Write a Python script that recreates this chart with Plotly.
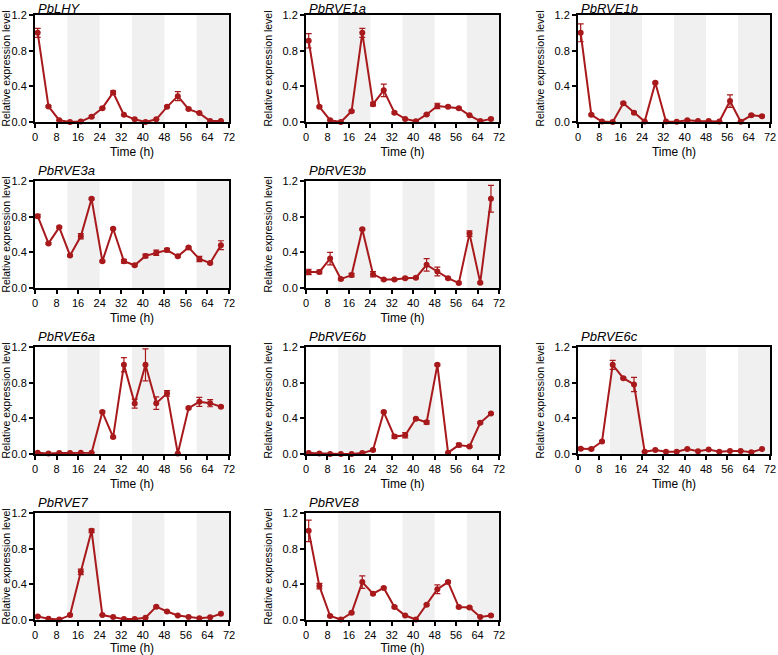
import plotly.graph_objects as go

# Zeitpunkte (h)
time_h = [1, 5, 9, 13, 17, 21, 25, 29, 33, 37, 41, 45, 49, 53, 57, 61, 65, 69]
x_ticks = [0, 8, 16, 24, 32, 40, 48, 56, 64, 72]
y_ticks = [0.0, 0.4, 0.8, 1.2]
dark_periods = [(12, 24), (36, 48), (60, 72)]

genes = ["PbLHY", "PbRVE1a", "PbRVE1b", "PbRVE3a", "PbRVE3b",
         "PbRVE6a", "PbRVE6b", "PbRVE6c", "PbRVE7", "PbRVE8"]

lhy = [1.0, 0.175, 0.02, 0.0, 0.005, 0.06, 0.155, 0.33, 0.08, 0.03, 0.0, 0.03, 0.17, 0.29, 0.145, 0.10, 0.01, 0.01]
lhy_err = [0.05, 0.01, 0, 0, 0, 0.01, 0.01, 0.02, 0, 0, 0, 0, 0.01, 0.05, 0.01, 0, 0, 0]
rve1a = [0.91, 0.17, 0.02, 0.0, 0.12, 1.0, 0.2, 0.355, 0.105, 0.035, 0.008, 0.085, 0.18, 0.17, 0.155, 0.075, 0.01, 0.035]
rve1a_err = [0.08, 0.01, 0, 0, 0.01, 0.05, 0.02, 0.07, 0.01, 0, 0, 0.01, 0.03, 0.01, 0.01, 0, 0, 0.01]
rve1b = [1.0, 0.08, 0.005, 0.0, 0.21, 0.105, 0.005, 0.44, 0.005, 0.003, 0.02, 0.012, 0.01, 0.005, 0.235, 0.003, 0.075, 0.065]
rve1b_err = [0.1, 0.01, 0, 0, 0.01, 0.01, 0, 0.01, 0, 0, 0, 0, 0, 0, 0.07, 0, 0.01, 0.01]
rve3a = [0.805, 0.5, 0.68, 0.365, 0.58, 1.0, 0.3, 0.665, 0.3, 0.255, 0.36, 0.395, 0.425, 0.355, 0.455, 0.325, 0.28, 0.48]
rve3a_err = [0.02, 0.01, 0.01, 0.01, 0.03, 0.01, 0.01, 0.01, 0.02, 0.01, 0.02, 0.03, 0.02, 0.01, 0.01, 0.03, 0.01, 0.05]
rve3b = [0.18, 0.18, 0.33, 0.1, 0.145, 0.66, 0.155, 0.095, 0.095, 0.11, 0.115, 0.26, 0.185, 0.11, 0.055, 0.61, 0.06, 1.0]
rve3b_err = [0.03, 0.02, 0.07, 0.01, 0.02, 0.01, 0.03, 0.01, 0.01, 0.01, 0.01, 0.07, 0.05, 0.01, 0.01, 0.03, 0.01, 0.15]
rve6a = [0.015, 0.005, 0.01, 0.01, 0.015, 0.015, 0.47, 0.19, 1.0, 0.565, 1.0, 0.57, 0.68, 0.005, 0.515, 0.585, 0.57, 0.53]
rve6a_err = [0, 0, 0, 0, 0, 0, 0.01, 0.01, 0.08, 0.05, 0.18, 0.07, 0.03, 0, 0.01, 0.05, 0.04, 0.01]
rve6b = [0.01, 0.005, 0.0, 0.0, 0.0, 0.01, 0.045, 0.47, 0.195, 0.21, 0.395, 0.355, 1.0, 0.015, 0.1, 0.085, 0.35, 0.455]
rve6b_err = [0, 0, 0, 0, 0, 0, 0.01, 0.01, 0.02, 0.03, 0.01, 0.02, 0.01, 0, 0.02, 0.01, 0.01, 0.01]
rve6c = [0.06, 0.055, 0.14, 1.0, 0.85, 0.78, 0.025, 0.045, 0.025, 0.025, 0.055, 0.03, 0.05, 0.025, 0.035, 0.035, 0.02, 0.055]
rve6c_err = [0.01, 0.01, 0.01, 0.05, 0.01, 0.08, 0, 0, 0, 0, 0, 0, 0, 0, 0, 0, 0, 0]
rve7 = [0.04, 0.015, 0.005, 0.055, 0.54, 1.0, 0.055, 0.035, 0.01, 0.01, 0.025, 0.15, 0.095, 0.05, 0.035, 0.02, 0.03, 0.07]
rve7_err = [0.01, 0, 0, 0.01, 0.03, 0.02, 0, 0, 0, 0, 0, 0.01, 0.01, 0, 0, 0, 0, 0]
rve8 = [1.0, 0.38, 0.045, 0.005, 0.08, 0.425, 0.295, 0.36, 0.145, 0.05, 0.005, 0.17, 0.345, 0.425, 0.145, 0.14, 0.035, 0.05]
rve8_err = [0.12, 0.03, 0.01, 0, 0.01, 0.07, 0.01, 0.01, 0.01, 0, 0, 0.01, 0.05, 0.01, 0.01, 0.01, 0, 0.01]

series = [lhy, rve1a, rve1b, rve3a, rve3b, rve6a, rve6b, rve6c, rve7, rve8]
errors = [lhy_err, rve1a_err, rve1b_err, rve3a_err, rve3b_err,
          rve6a_err, rve6b_err, rve6c_err, rve7_err, rve8_err]

# Position der Panels (Zeile, Spalte)
cells = [(0, 0), (0, 1), (0, 2), (1, 0), (1, 1), (2, 0), (2, 1), (2, 2), (3, 0), (3, 1)]

W, H = 778, 655
col_px = [(35, 229), (306, 499), (578, 770)]
row_px = [(15, 122), (181, 288), (347, 454), (513, 620)]

red = "#a8191c"
font = "Arial, Liberation Sans, sans-serif"

fig = go.Figure()
shapes = []
annotations = []

for i, (gene, vals, errs, (r, c)) in enumerate(zip(genes, series, errors, cells)):
    n = "" if i == 0 else str(i + 1)
    x0, x1 = col_px[c]
    y0, y1 = row_px[r]
    xd = [x0 / W, x1 / W]
    yd = [1 - y1 / H, 1 - y0 / H]

    fig.add_trace(go.Scatter(
        x=time_h, y=vals, mode="lines+markers",
        xaxis="x" + n, yaxis="y" + n,
        line=dict(color=red, width=2),
        marker=dict(color=red, size=6),
        error_y=dict(type="data", array=errs, visible=True, color=red, thickness=1.2, width=3),
        cliponaxis=False, showlegend=False,
    ))

    axis_common = dict(showline=True, linecolor="black", linewidth=2, mirror=True,
                       ticks="outside", ticklen=4, tickwidth=1.5, tickcolor="black",
                       showgrid=False, zeroline=False, automargin=False,
                       tickfont=dict(family=font, size=11, color="black"))
    fig.layout["xaxis" + n] = dict(
        domain=xd, anchor="y" + n, range=[0, 72], tickvals=x_ticks,
        title=dict(text="Time (h)", font=dict(family=font, size=12, color="black"), standoff=5),
        **axis_common)
    fig.layout["yaxis" + n] = dict(
        domain=yd, anchor="x" + n, range=[0, 1.2], tickvals=y_ticks, tickformat=".1f",
        title=dict(text="Relative expression level", font=dict(family=font, size=10.5, color="black"), standoff=8),
        **axis_common)

    for a, b in dark_periods:
        shapes.append(dict(type="rect", xref="x" + n, yref="y" + n + " domain",
                           x0=a, x1=b, y0=0, y1=1, fillcolor="#f0f0f0",
                           line=dict(width=0), layer="below"))

    title_y = max(y0 - 10.5, 8.5)
    annotations.append(dict(text=gene, xref="paper", yref="paper",
                            x=(x0 + 1) / W, y=1 - title_y / H,
                            xanchor="left", yanchor="middle", showarrow=False,
                            font=dict(family=font, size=13, color="black", style="italic")))

fig.update_layout(
    width=W, height=H,
    margin=dict(l=0, r=0, t=0, b=0),
    plot_bgcolor="white", paper_bgcolor="white",
    shapes=shapes, annotations=annotations,
)

# Standard-Seitenrand des Browsers entfernen
fig.write_html("out.html", config={"displayModeBar": False},
               post_script="document.body.style.margin='0';")
